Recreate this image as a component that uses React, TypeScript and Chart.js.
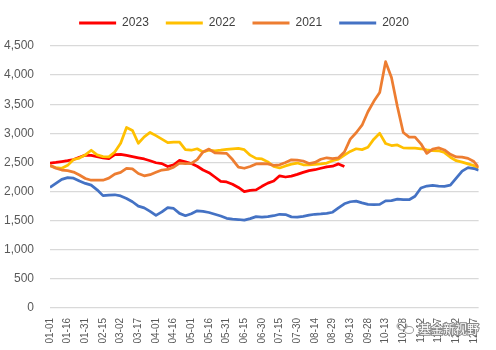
import React, { useEffect, useRef } from "react";
import { Chart, registerables } from "chart.js";

Chart.register(...registerables);

const days = [0,5,10,15,20,25,30,35,40,45,50,55,60,65,70,75,80,85,90,95,100,105,110,115,120,125,130,135,140,145,150,155,160,165,170,175,180,185,190,195,200,205,210,215,220,225,230,235,240,245,250,255,260,265,270,275,280,285,290,295,300,305,310,315,320,325,330,335,340,345,350,355,360,364];

const tickLabels = ["01-01","01-16","01-31","02-15","03-02","03-17","04-01","04-16","05-01","05-16","05-31","06-15","06-30","07-15","07-30","08-14","08-29","09-13","09-28","10-13","10-28","11-12","11-27","12-12","12-27"];

const seriesNames = ["2023", "2022", "2021", "2020"];
const seriesColors = ["#FF0000", "#FFC000", "#ED7D31", "#4472C4"];

const s2023 = [
  2490,2500,2515,2530,2550,2590,2625,2620,2600,2580,
  2565,2635,2640,2620,2600,2580,2560,2530,2495,2480,
  2430,2460,2535,2510,2480,2435,2370,2325,2250,2175,
  2165,2125,2070,2000,2020,2030,2090,2145,2180,2270,
  2250,2265,2295,2330,2360,2375,2400,2425,2435,2475,
  2430
];

const s2022 = [
  2440,2410,2400,2450,2550,2575,2630,2710,2630,2600,
  2595,2680,2830,3100,3050,2830,2940,3015,2960,2900,
  2840,2850,2850,2720,2710,2735,2680,2710,2700,2710,
  2725,2735,2740,2720,2625,2570,2560,2510,2430,2405,
  2440,2470,2490,2460,2460,2465,2475,2490,2530,2555,
  2625,2690,2735,2720,2760,2900,3000,2825,2790,2800,
  2750,2745,2745,2735,2715,2705,2700,2670,2590,2530,
  2505,2475,2445,2405
];

const s2021 = [
  2450,2400,2370,2360,2335,2285,2225,2195,2195,2195,
  2230,2300,2330,2400,2390,2310,2270,2290,2330,2370,
  2380,2420,2490,2480,2485,2550,2680,2730,2665,2660,
  2655,2550,2420,2400,2430,2475,2480,2475,2450,2460,
  2500,2545,2540,2525,2480,2500,2555,2580,2565,2580,
  2680,2900,3010,3140,3370,3550,3700,4230,3960,3460,
  3015,2935,2935,2820,2655,2730,2750,2715,2640,2595,
  2590,2570,2515,2415
];

const s2020 = [
  2070,2140,2210,2240,2230,2180,2140,2110,2030,1930,
  1940,1945,1925,1880,1825,1750,1720,1660,1590,1650,
  1725,1710,1625,1585,1620,1670,1660,1640,1610,1580,
  1540,1525,1520,1510,1535,1570,1560,1570,1585,1610,
  1605,1565,1560,1575,1595,1610,1615,1625,1645,1720,
  1790,1825,1835,1805,1780,1775,1780,1840,1845,1870,
  1860,1860,1920,2060,2095,2105,2095,2090,2110,2230,
  2350,2410,2395,2365
];

const allSeries = [s2023, s2022, s2021, s2020];

const watermark = {
  id: "watermark",
  afterDraw(chart: any) {
    const ctx = chart.ctx;
    ctx.save();
    ctx.strokeStyle = "#9a9a9a";
    ctx.lineWidth = 1;
    ctx.beginPath();
    ctx.ellipse(402, 326, 5, 4, 0, 0, Math.PI * 2);
    ctx.stroke();
    ctx.beginPath();
    ctx.ellipse(409, 330, 4.5, 3.5, 0, 0, Math.PI * 2);
    ctx.stroke();
    ctx.font = '12px "Noto Sans CJK SC"';
    ctx.textBaseline = "middle";
    ctx.textAlign = "left";
    ctx.lineWidth = 2;
    ctx.strokeStyle = "#8a8a8a";
    ctx.strokeText("基金新视野", 419, 329);
    ctx.fillStyle = "#ffffff";
    ctx.fillText("基金新视野", 419, 329);
    ctx.restore();
  },
};

export default function App() {
  const ref = useRef<HTMLCanvasElement>(null);
  useEffect(() => {
    document.body.style.margin = "0";
    const datasets = seriesNames.map((name, i) => ({
      label: name,
      data: allSeries[i].map((v, j) => ({ x: days[j], y: v })),
      borderColor: seriesColors[i],
      backgroundColor: seriesColors[i],
      borderWidth: 2.75,
      pointRadius: 0,
      tension: 0,
      borderJoinStyle: "round" as const,
      order: 4 - i,
    }));
    const chart = new Chart(ref.current!, {
      type: "line",
      data: { datasets },
      plugins: [watermark],
      options: {
        animation: false,
        responsive: false,
        devicePixelRatio: 1,
        layout: { padding: { left: 0, right: 8, top: 0, bottom: 0 } },
        plugins: {
          tooltip: { enabled: false },
          title: {
            display: true,
            text: "",
            weight: 500,
            font: { size: 1, lineHeight: 1 },
            padding: { top: 0, bottom: 6 },
          } as any,
          legend: {
            position: "top",
            labels: {
              boxWidth: 37,
              boxHeight: 3,
              padding: 17,
              color: "#404040",
              font: { family: '"Liberation Sans", Arial, sans-serif', size: 12 },
              generateLabels: (c: any) =>
                c.data.datasets.map((ds: any, i: number) => ({
                  text: ds.label,
                  fillStyle: ds.borderColor,
                  strokeStyle: ds.borderColor,
                  lineWidth: 0,
                  hidden: false,
                  datasetIndex: i,
                  fontColor: "#404040",
                })),
            },
          },
        },
        scales: {
          x: {
            type: "linear",
            min: 0,
            max: 364,
            afterFit: (s: any) => { s.height = 42; },
            grid: { display: false, drawTicks: false },
            border: { display: false },
            ticks: {
              stepSize: 15,
              includeBounds: false,
              autoSkip: false,
              minRotation: 90,
              maxRotation: 90,
              padding: 10,
              color: "#595959",
              font: { family: '"Liberation Sans", Arial, sans-serif', size: 10 },
              callback: (v: any) => {
                const idx = Math.round(Number(v) / 15);
                return Number(v) % 15 === 0 ? tickLabels[idx] ?? "" : "";
              },
            },
          },
          y: {
            min: 0,
            max: 4500,
            afterFit: (s: any) => { s.width = 50; },
            grid: { color: "#d9d9d9", lineWidth: 1.25, drawTicks: false },
            border: { display: false },
            ticks: {
              stepSize: 500,
              padding: 16,
              color: "#595959",
              font: { family: '"Liberation Sans", Arial, sans-serif', size: 12 },
              callback: (v: any) => Number(v).toLocaleString("en-US"),
            },
          },
        },
      },
    });
    return () => chart.destroy();
  }, []);
  return (
    <div style={{ width: 496, height: 350 }}>
      <canvas ref={ref} width={496} height={350} />
    </div>
  );
}
